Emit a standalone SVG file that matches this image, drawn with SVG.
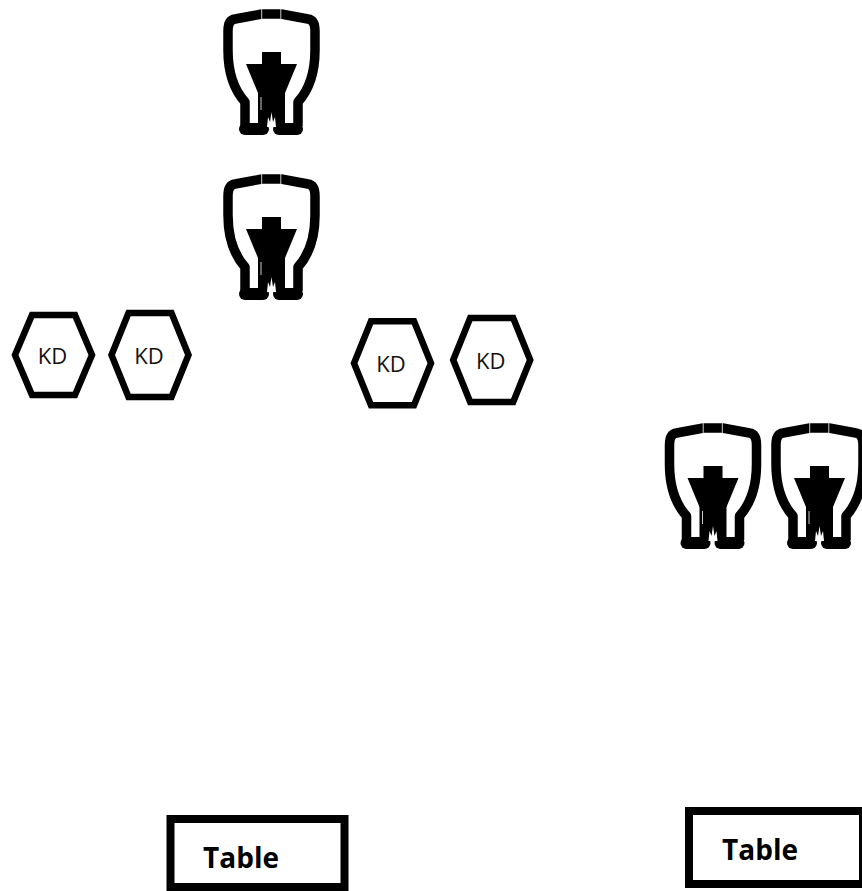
<svg xmlns="http://www.w3.org/2000/svg" xmlns:xlink="http://www.w3.org/1999/xlink" width="862" height="891" viewBox="0 0 862 891">
<style>
.frame{fill:none;stroke:#000;stroke-width:9.5;stroke-linejoin:round}
.body{fill:#000}
.cut{fill:#fff}
.tick{stroke:#fff;stroke-width:0.8}
.hex{fill:#fff;stroke:#000;stroke-width:6.5;stroke-linejoin:miter}
.hexlabel{font-family:"Open Sans","Noto Sans",sans-serif;font-size:22px;fill:#111;text-anchor:middle}
.table{fill:#fff;stroke:#000;stroke-width:8}
.tablelabel{font-family:"Open Sans","Noto Sans",sans-serif;font-size:28px;font-weight:bold;fill:#000;text-anchor:middle}
</style>
<defs>
<g id="chair">
<path class="frame" d="M245,126 L245,102 C236,92 228,75 228,50 L228,31 Q228,20 235,19 L262,14 L281,14 L308,19 Q315,20 315,31 L315,50 C315,75 307,92 298,102 L298,126"/>
<line class="tick" x1="261.7" y1="8" x2="261.7" y2="20"/>
<line class="tick" x1="280.8" y1="8" x2="280.8" y2="20"/>
<rect class="body" x="262" y="52" width="19" height="13"/>
<polygon class="body" points="246,64 297,64 285,93 258,93"/>
<rect class="body" x="258" y="90" width="27" height="37"/>
<rect class="body" x="239" y="123" width="30" height="12" rx="6"/>
<rect class="body" x="273" y="123" width="30" height="12" rx="6"/>
<path class="cut" d="M267,127 L268,117 L270,122 L271.5,112 L273,122 L275,117 L276,127 Z"/>
<rect class="cut" x="269.5" y="125" width="2.5" height="10"/>
<line class="tick" x1="261" y1="97" x2="261" y2="110"/>
</g>
</defs>
<g id="connectors"></g>
<g id="chair-1"><use xlink:href="#chair" href="#chair"/></g>
<g id="chair-2"><use xlink:href="#chair" href="#chair" transform="translate(0,165)"/></g>
<g id="chair-3"><use xlink:href="#chair" href="#chair" transform="translate(441.5,414)"/></g>
<g id="chair-4"><use xlink:href="#chair" href="#chair" transform="translate(548,414)"/></g>
<g id="kd-1">
<polygon class="hex" points="32,315 75,315 92,355 75,395 32,395 15,355"/>
<text class="hexlabel" x="52.5" y="364">KD</text>
</g>
<g id="kd-2">
<polygon class="hex" points="128.5,313 171.5,313 188.5,355 171.5,397 128.5,397 111.5,355"/>
<text class="hexlabel" x="149" y="364">KD</text>
</g>
<g id="kd-3">
<polygon class="hex" points="371,321.3 414,321.3 431,363.3 414,405.3 371,405.3 354,363.3"/>
<text class="hexlabel" x="391" y="372">KD</text>
</g>
<g id="kd-4">
<polygon class="hex" points="470.2,318 513.2,318 530.2,360 513.2,402 470.2,402 453.2,360"/>
<text class="hexlabel" x="490.7" y="369">KD</text>
</g>
<g id="table-1">
<rect class="table" x="170.5" y="819" width="174" height="68"/>
<text class="tablelabel" x="241" y="868">Table</text>
</g>
<g id="table-2">
<rect class="table" x="689" y="811" width="174" height="73"/>
<text class="tablelabel" x="760" y="860">Table</text>
</g>
</svg>
